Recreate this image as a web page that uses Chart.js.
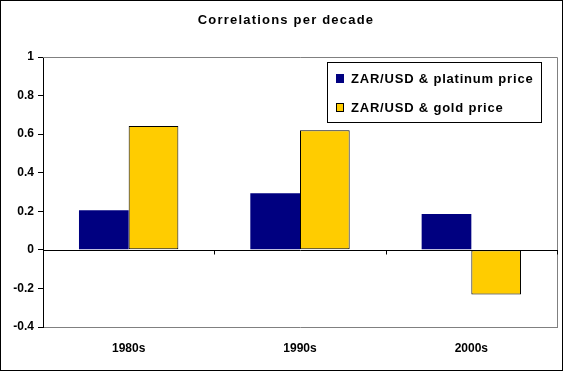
<!DOCTYPE html>
<html>
<head>
<meta charset="utf-8">
<script src="https://cdn.jsdelivr.net/npm/chart.js@4.4.0/dist/chart.umd.min.js"></script>
<style>
  html, body { margin: 0; padding: 0; background: #fff; }
  #wrap { width: 565px; height: 371px; }
</style>
</head>
<body>
<div id="wrap"><canvas id="corrChart" width="565" height="371"></canvas></div>
<script>
// data
const decades = ['1980s', '1990s', '2000s'];
const platinumCorr = [0.205, 0.293, 0.186];
const goldCorr = [0.642, 0.62, -0.232];
const seriesNames = ['ZAR/USD & platinum price', 'ZAR/USD & gold price'];
const yTicks = [-0.4, -0.2, 0, 0.2, 0.4, 0.6, 0.8, 1];
const chartTitle = 'Correlations per decade';

const FONT = "Arial, 'Liberation Sans', sans-serif";

// frame, title, plot border, zero line and legend box
const excelLook = {
    id: 'excelLook',
    beforeDatasetsDraw(chart) {
        const ctx = chart.ctx;
        const a = chart.chartArea;
        ctx.save();
        ctx.strokeStyle = '#808080';
        ctx.lineWidth = 1;
        ctx.beginPath();
        ctx.moveTo(Math.round(a.left), Math.round(a.top) + 0.5);
        ctx.lineTo(Math.round(a.right) + 0.5, Math.round(a.top) + 0.5);
        ctx.lineTo(Math.round(a.right) + 0.5, Math.round(a.bottom));
        ctx.stroke();
        ctx.restore();
    },
    afterDatasetsDraw(chart) {
        const ctx = chart.ctx;
        const a = chart.chartArea;
        const xs = chart.scales.x;
        const y0 = Math.round(chart.scales.y.getPixelForValue(0)) + 0.5;
        ctx.save();
        ctx.strokeStyle = '#000';
        ctx.lineWidth = 1;
        ctx.beginPath();
        ctx.moveTo(a.left, y0);
        ctx.lineTo(a.right + 1, y0);
        for (let i = 0; i <= decades.length; i++) {
            const px = Math.round(xs.getPixelForValue(i - 0.5)) + 0.5;
            ctx.moveTo(px, y0);
            ctx.lineTo(px, y0 + 4);
        }
        ctx.stroke();
        ctx.restore();
    },
    afterDraw(chart) {
        const ctx = chart.ctx;
        const a = chart.chartArea;
        ctx.save();
        // outer frame
        ctx.strokeStyle = '#000';
        ctx.lineWidth = 1;
        ctx.strokeRect(0.5, 0.5, 562, 370);

        // title
        ctx.fillStyle = '#000';
        ctx.font = 'bold 13px ' + FONT;
        ctx.letterSpacing = '1.2px';
        ctx.textAlign = 'center';
        ctx.textBaseline = 'alphabetic';
        ctx.fillText(chartTitle, 286, 23.5);

        // legend
        const bx = Math.round(a.right) - 16;
        const lw = 214, lh = 60;
        const lx = bx - lw, ly = Math.round(a.top) + 5;
        ctx.fillStyle = '#fff';
        ctx.fillRect(lx, ly, lw, lh);
        ctx.strokeRect(lx + 0.5, ly + 0.5, lw, lh);
        ctx.font = 'bold 13px ' + FONT;
        ctx.letterSpacing = '0.8px';
        ctx.textAlign = 'left';
        chart.data.datasets.forEach((ds, i) => {
            const base = ly + 21 + i * 29;
            ctx.fillStyle = ds.backgroundColor;
            ctx.fillRect(lx + 9, base - 9, 8, 9);
            if (ds.borderWidth) {
                ctx.strokeStyle = '#000';
                ctx.strokeRect(lx + 9.5, base - 8.5, 7, 8);
            }
            ctx.fillStyle = '#000';
            ctx.fillText(ds.label, lx + 24, base);
        });
        ctx.letterSpacing = '0px';
        ctx.restore();
    }
};

const ctx = document.getElementById('corrChart').getContext('2d');
const corrChart = new Chart(ctx, {
    type: 'bar',
    data: {
        labels: decades,
        datasets: [{
            label: seriesNames[0],
            data: platinumCorr,
            backgroundColor: '#000080',
            borderWidth: 0
        }, {
            label: seriesNames[1],
            data: goldCorr,
            backgroundColor: '#FFCC00',
            borderColor: '#000',
            borderWidth: 1,
            borderSkipped: false
        }]
    },
    options: {
        responsive: false,
        animation: false,
        layout: { padding: { top: 57, right: 8, left: 0, bottom: 0 } },
        categoryPercentage: 0.58,
        barPercentage: 1,
        plugins: {
            legend: { display: false },
            title: { display: false },
            tooltip: { enabled: false }
        },
        scales: {
            x: {
                grid: { display: false, drawTicks: false },
                border: { display: true, color: '#808080', width: 1 },
                ticks: {
                    color: '#000',
                    padding: 14,
                    font: { family: FONT, size: 12, weight: 'bold' }
                },
                afterFit(scale) { scale.height = 44; }
            },
            y: {
                min: -0.4,
                max: 1,
                afterBuildTicks(scale) {
                    scale.ticks = yTicks.map(v => ({ value: v }));
                },
                grid: {
                    drawOnChartArea: false,
                    drawTicks: true,
                    tickLength: 5,
                    tickColor: '#000'
                },
                border: { display: true, color: '#000', width: 1 },
                ticks: {
                    color: '#000',
                    padding: 4,
                    font: { family: FONT, size: 12, weight: 'bold' },
                    callback: v => String(Math.round(v * 10) / 10)
                },
                afterFit(scale) { scale.width = 43; }
            }
        }
    },
    plugins: [excelLook]
});
</script>
</body>
</html>
